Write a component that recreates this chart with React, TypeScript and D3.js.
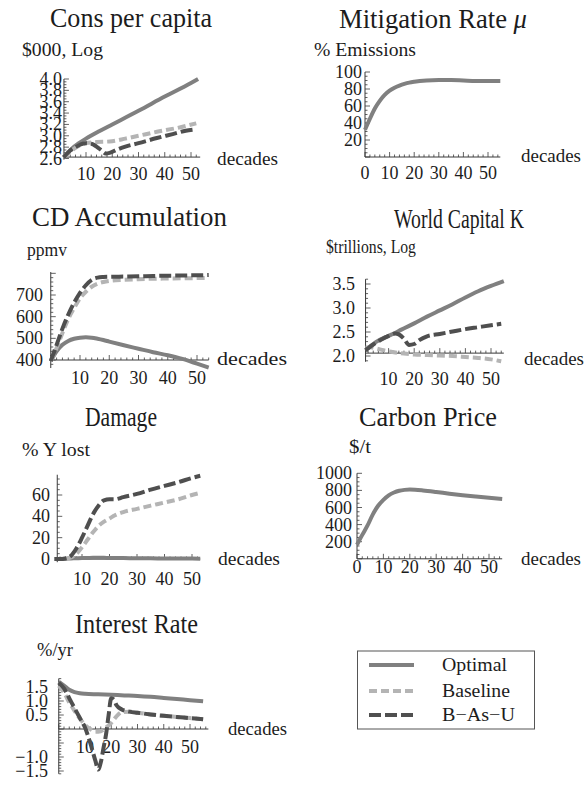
import React from 'react';
import * as d3 from 'd3';

// ---------- DATA ----------
// Cons per capita ($000, log)
const CONS_OPT_X = [1.5, 3, 5, 7, 10, 15, 20, 30, 40, 50, 52.7];
const CONS_OPT_Y = [2.62, 2.7, 2.79, 2.86, 2.95, 3.08, 3.2, 3.44, 3.69, 3.93, 4.0];
const CONS_BASE_X = [1.5, 4, 6, 8, 10, 14, 19, 25, 30, 37, 45, 52];
const CONS_BASE_Y = [2.62, 2.72, 2.79, 2.84, 2.87, 2.89, 2.9, 2.95, 3.0, 3.07, 3.14, 3.22];
const CONS_BAU_X = [1.5, 4, 6, 8, 10, 12, 14, 16, 17.5, 19, 22, 25, 30, 37, 43, 48, 51];
const CONS_BAU_Y = [2.62, 2.74, 2.8, 2.85, 2.87, 2.86, 2.81, 2.74, 2.69, 2.7, 2.76, 2.81, 2.87, 2.96, 3.03, 3.09, 3.11];

// Mitigation rate (% emissions)
const MIT_X = [0, 2, 4, 6, 8, 10, 12, 14, 16, 18, 20, 25, 30, 35, 40, 45, 50, 55];
const MIT_OPT = [32, 45, 57, 66, 73, 78, 81.5, 84, 86, 87.5, 88.5, 90, 90.5, 90.5, 90, 89.5, 89.5, 89.5];

// CD accumulation (ppmv)
const CD_X = [0, 2, 4, 6, 8, 10, 12, 14, 16, 18, 20, 25, 30, 35, 40, 45, 50, 54];
const CD_OPT = [395, 440, 470, 488, 498, 503, 505, 503, 498, 492, 485, 468, 452, 436, 422, 405, 383, 365];
const CD_BASE = [395, 455, 525, 590, 640, 685, 715, 738, 752, 760, 765, 770, 773, 775, 776, 777, 778, 778];
const CD_BAU = [395, 470, 545, 610, 665, 710, 745, 770, 780, 783, 784, 785, 786, 788, 789, 790, 791, 792];

// World capital K ($trillions, log)
const K_OPT_X = [1, 5, 10, 12.5, 15, 20, 25, 30, 35, 40, 45, 50, 55];
const K_OPT_Y = [2.12, 2.29, 2.42, 2.48, 2.55, 2.68, 2.82, 2.95, 3.08, 3.22, 3.35, 3.46, 3.56];
const K_BAU_X = [1, 4, 7, 10, 12.5, 14, 16, 18, 20, 22, 25, 30, 35, 40, 45, 50, 54];
const K_BAU_Y = [2.12, 2.24, 2.34, 2.42, 2.47, 2.45, 2.36, 2.23, 2.25, 2.33, 2.41, 2.46, 2.51, 2.56, 2.6, 2.64, 2.67];
const K_BASE_X = [1, 3, 5, 8, 12, 16, 20, 25, 30, 35, 40, 45, 50, 54];
const K_BASE_Y = [2.17, 2.18, 2.16, 2.12, 2.08, 2.05, 2.03, 2.02, 2.01, 2.0, 1.98, 1.96, 1.93, 1.89];

// Damage (% Y lost)
const DMG_X = [0, 2, 4, 6, 8, 10, 12, 14, 16, 18, 20, 22, 25, 30, 35, 40, 45, 50, 53];
const DMG_OPT = [0, 0.1, 0.3, 0.5, 0.7, 0.9, 1.0, 1.1, 1.1, 1.1, 1.0, 1.0, 0.9, 0.7, 0.6, 0.5, 0.4, 0.4, 0.3];
const DMG_BASE = [0, 0, 0.3, 1.5, 5, 11, 18, 25, 31, 35, 38, 41, 44, 47, 50, 53, 56, 60, 62];
const DMG_BAU = [0, 0, 0.5, 3, 10, 20, 31, 42, 50, 55, 56, 56, 58, 61, 65, 68.5, 72, 76, 78];

// Carbon price ($/t)
const CP_X = [0, 2, 4, 6, 8, 10, 12, 14, 16, 18, 20, 22, 25, 30, 35, 40, 45, 50, 55];
const CP_OPT = [165, 280, 390, 520, 620, 690, 742, 775, 796, 806, 810, 808, 800, 782, 762, 744, 728, 713, 700];

// Interest rate (%/yr)
const IR_OPT_X = [0, 2, 4, 6, 8, 10, 15, 20, 25, 30, 35, 40, 45, 50, 55];
const IR_OPT = [1.68, 1.55, 1.4, 1.32, 1.28, 1.26, 1.24, 1.22, 1.2, 1.18, 1.15, 1.11, 1.07, 1.03, 0.99];
const IR_BASE_X = [0, 2, 4, 6, 8, 10, 12, 14, 16, 18, 20, 22, 24, 27, 30, 35, 40, 45, 50, 55];
const IR_BASE = [1.55, 1.3, 0.95, 0.65, 0.38, 0.15, 0.0, -0.1, -0.08, 0.05, 0.22, 0.45, 0.6, 0.62, 0.58, 0.52, 0.47, 0.43, 0.39, 0.35];
const IR_BAU_X = [0, 2, 4, 6, 8, 10, 12, 14, 15, 16, 17, 18, 19, 20, 21, 22, 24, 27, 30, 35, 40, 45, 50, 55];
const IR_BAU = [1.65, 1.45, 1.1, 0.75, 0.4, 0.05, -0.5, -1.15, -1.45, -1.2, -0.7, -0.2, 0.5, 1.1, 1.05, 0.85, 0.7, 0.62, 0.58, 0.52, 0.47, 0.43, 0.39, 0.35];

// Tick labels
const XT_10 = [10, 20, 30, 40, 50];
const XT_0 = [0, 10, 20, 30, 40, 50];
const CONS_YT = [2.6, 2.8, 3.0, 3.2, 3.4, 3.6, 3.8, 4.0];
const MIT_YT = [20, 40, 60, 80, 100];
const CD_YT = [400, 500, 600, 700];
const K_YT = [2.0, 2.5, 3.0, 3.5];
const DMG_YT = [0, 20, 40, 60];
const CP_YT = [200, 400, 600, 800, 1000];
const IR_YT = [1.5, 1.0, 0.5, -1.0, -1.5];

const LEGEND_NAMES = ['Optimal', 'Baseline', 'B\u2212As\u2212U'];

// ---------- STYLE ----------
const FONT = '"Liberation Serif", "Times New Roman", serif';
const TXT = '#1c1c1c';
const AXIS = '#3a3a3a';
const STYLES: Record<string, { stroke: string; dash?: string }> = {
  opt: { stroke: '#808080' },
  base: { stroke: '#b4b4b4', dash: '8,4' },
  bau: { stroke: '#4f4f4f', dash: '12,4' },
};
const LW = 4;
const TICK_FS = 18;
const SMALL_FS = 18.5;
const TITLE_FS = 27;

type Series = { xs: number[]; ys: number[]; kind: 'opt' | 'base' | 'bau' };
type Panel = {
  title: React.ReactNode; titleX: number; titleY: number; titleW: number;
  unit: string; unitX: number; unitY: number; unitW: number;
  xDom: [number, number]; xRange: [number, number];
  yDom: [number, number]; yRange: [number, number];
  xAxis: [number, number]; yAxis: [number, number];
  xCross: number; yCross: number;
  xTicks: number[]; yTicks: number[]; yFmt: (v: number) => string;
  xMinor: number; yMinor: number;
  yLabelRight: number; xLabelY: number;
  decX: number; decY: number; decW: number;
  series: Series[];
};

const f1 = (v: number) => (v < 0 ? '\u2212' : '') + d3.format('.1f')(Math.abs(v));
const f0 = (v: number) => String(v);

const panels: Panel[] = [
  {
    title: 'Cons per capita', titleX: 50, titleY: 27, titleW: 162,
    unit: '$000, Log', unitX: 22, unitY: 56, unitW: 81,
    xDom: [0, 50], xRange: [59.75, 191], yDom: [2.6, 4.0], yRange: [158.5, 79],
    xAxis: [1.6, 53.5], yAxis: [2.58, 4.0], xCross: 2.625, yCross: 1.6,
    xTicks: XT_10, yTicks: CONS_YT, yFmt: f1, xMinor: 2, yMinor: 0.05,
    yLabelRight: 62, xLabelY: 180, decX: 217, decY: 165, decW: 61,
    series: [
      { xs: CONS_OPT_X, ys: CONS_OPT_Y, kind: 'opt' },
      { xs: CONS_BASE_X, ys: CONS_BASE_Y, kind: 'base' },
      { xs: CONS_BAU_X, ys: CONS_BAU_Y, kind: 'bau' },
    ],
  },
  {
    title: (<>Mitigation Rate <tspan fontStyle="italic">{'\u03bc'}</tspan></>), titleX: 339, titleY: 28, titleW: 188,
    unit: '% Emissions', unitX: 314, unitY: 56, unitW: 102,
    xDom: [0, 50], xRange: [365, 488], yDom: [0, 100], yRange: [157, 72],
    xAxis: [0, 55], yAxis: [0, 100], xCross: 0, yCross: 0,
    xTicks: XT_0, yTicks: MIT_YT, yFmt: f0, xMinor: 2, yMinor: 5,
    yLabelRight: 362, xLabelY: 179, decX: 521, decY: 162, decW: 60,
    series: [{ xs: MIT_X, ys: MIT_OPT, kind: 'opt' }],
  },
  {
    title: 'CD Accumulation', titleX: 32, titleY: 226, titleW: 195,
    unit: 'ppmv', unitX: 27, unitY: 256, unitW: 40,
    xDom: [0, 50], xRange: [50.75, 197], yDom: [400, 700], yRange: [360, 295],
    xAxis: [0, 54], yAxis: [363, 806], xCross: 400, yCross: 0,
    xTicks: XT_10, yTicks: CD_YT, yFmt: f0, xMinor: 2, yMinor: 20,
    yLabelRight: 43, xLabelY: 384, decX: 217, decY: 365, decW: 70,
    series: [
      { xs: CD_X, ys: CD_OPT, kind: 'opt' },
      { xs: CD_X, ys: CD_BASE, kind: 'base' },
      { xs: CD_X, ys: CD_BAU, kind: 'bau' },
    ],
  },
  {
    title: 'World Capital K', titleX: 394, titleY: 228, titleW: 130,
    unit: '$trillions, Log', unitX: 326, unitY: 253, unitW: 90,
    xDom: [0, 50], xRange: [363, 491], yDom: [2, 3.5], yRange: [356, 284],
    xAxis: [1, 55], yAxis: [1.88, 3.6], xCross: 2.06, yCross: 1,
    xTicks: XT_10, yTicks: K_YT, yFmt: f1, xMinor: 2, yMinor: 0.1,
    yLabelRight: 355, xLabelY: 385, decX: 524, decY: 365, decW: 60,
    series: [
      { xs: K_OPT_X, ys: K_OPT_Y, kind: 'opt' },
      { xs: K_BASE_X, ys: K_BASE_Y, kind: 'base' },
      { xs: K_BAU_X, ys: K_BAU_Y, kind: 'bau' },
    ],
  },
  {
    title: 'Damage', titleX: 85, titleY: 426, titleW: 72,
    unit: '% Y lost', unitX: 22, unitY: 456, unitW: 68,
    xDom: [0, 50], xRange: [54.5, 192], yDom: [0, 60], yRange: [559, 495],
    xAxis: [1, 53], yAxis: [-3, 79], xCross: 0, yCross: 1,
    xTicks: XT_10, yTicks: DMG_YT, yFmt: f0, xMinor: 2, yMinor: 5,
    yLabelRight: 50, xLabelY: 585, decX: 218, decY: 565, decW: 62,
    series: [
      { xs: DMG_X, ys: DMG_OPT, kind: 'opt' },
      { xs: DMG_X, ys: DMG_BASE, kind: 'base' },
      { xs: DMG_X, ys: DMG_BAU, kind: 'bau' },
    ],
  },
  {
    title: 'Carbon Price', titleX: 359, titleY: 426, titleW: 138,
    unit: '$/t', unitX: 349, unitY: 453, unitW: 22,
    xDom: [0, 50], xRange: [357, 489], yDom: [0, 1000], yRange: [558.8, 473.3],
    xAxis: [0, 55], yAxis: [0, 1000], xCross: 0, yCross: 0,
    xTicks: XT_0, yTicks: CP_YT, yFmt: f0, xMinor: 2, yMinor: 50,
    yLabelRight: 352, xLabelY: 573, decX: 521, decY: 565, decW: 60,
    series: [{ xs: CP_X, ys: CP_OPT, kind: 'opt' }],
  },
  {
    title: 'Interest Rate', titleX: 75, titleY: 633, titleW: 123,
    unit: '%/yr', unitX: 37, unitY: 656, unitW: 36,
    xDom: [0, 50], xRange: [58.75, 190], yDom: [-1.5, 1.5], yRange: [771, 687],
    xAxis: [0, 57], yAxis: [-1.6, 1.8], xCross: 0, yCross: 0,
    xTicks: XT_10, yTicks: IR_YT, yFmt: f1, xMinor: 2, yMinor: 0.1,
    yLabelRight: 48, xLabelY: 753, decX: 228, decY: 735, decW: 59,
    series: [
      { xs: IR_OPT_X, ys: IR_OPT, kind: 'opt' },
      { xs: IR_BASE_X, ys: IR_BASE, kind: 'base' },
      { xs: IR_BAU_X, ys: IR_BAU, kind: 'bau' },
    ],
  },
];

function minorValues(lo: number, hi: number, step: number): number[] {
  const out: number[] = [];
  const start = Math.ceil(lo / step - 1e-9);
  const end = Math.floor(hi / step + 1e-9);
  for (let i = start; i <= end; i++) out.push(+(i * step).toFixed(6));
  return out;
}

function PanelView({ p }: { p: Panel }) {
  const x = d3.scaleLinear().domain(p.xDom).range(p.xRange);
  const y = d3.scaleLinear().domain(p.yDom).range(p.yRange);
  const ax = y(p.xCross);
  const ay = x(p.yCross);
  const line = d3.line<[number, number]>().x((d) => x(d[0])).y((d) => y(d[1])).curve(d3.curveMonotoneX);
  const xMinor = minorValues(p.xAxis[0], p.xAxis[1], p.xMinor);
  const yMinor = minorValues(p.yAxis[0], p.yAxis[1], p.yMinor);
  const isMajorX = (v: number) => Math.abs(v / 10 - Math.round(v / 10)) < 1e-6;
  const majorYStep = p.yTicks.length > 1 ? Math.abs(p.yTicks[1] - p.yTicks[0]) : 1;
  const isMajorY = (v: number) => Math.abs(v / majorYStep - Math.round(v / majorYStep)) < 1e-6;
  return (
    <g>
      <text x={p.titleX} y={p.titleY} fontSize={TITLE_FS} fill={TXT} textLength={p.titleW} lengthAdjust="spacingAndGlyphs">{p.title}</text>
      <text x={p.unitX} y={p.unitY} fontSize={SMALL_FS} fill={TXT} textLength={p.unitW} lengthAdjust="spacingAndGlyphs">{p.unit}</text>
      {/* axes */}
      <line x1={x(p.xAxis[0])} x2={x(p.xAxis[1])} y1={ax} y2={ax} stroke={AXIS} strokeWidth={1} />
      <line x1={ay} x2={ay} y1={y(p.yAxis[0])} y2={y(p.yAxis[1])} stroke={AXIS} strokeWidth={1} />
      {xMinor.map((v) => (
        <line key={'xm' + v} x1={x(v)} x2={x(v)} y1={ax} y2={ax - (isMajorX(v) ? 5 : 2.5)} stroke={AXIS} strokeWidth={0.8} />
      ))}
      {yMinor.map((v) => (
        <line key={'ym' + v} x1={ay} x2={ay + (isMajorY(v) ? 5 : 2.5)} y1={y(v)} y2={y(v)} stroke={AXIS} strokeWidth={0.8} />
      ))}
      {p.xTicks.map((v) => (
        <text key={'xl' + v} x={x(v)} y={p.xLabelY} fontSize={TICK_FS} fill={TXT} textAnchor="middle">{v}</text>
      ))}
      {p.yTicks.map((v) => (
        <text key={'yl' + v} x={p.yLabelRight} y={y(v) + 6} fontSize={TICK_FS} fill={TXT} textAnchor="end">{p.yFmt(v)}</text>
      ))}
      <text x={p.decX} y={p.decY} fontSize={SMALL_FS} fill={TXT} textLength={p.decW} lengthAdjust="spacingAndGlyphs">decades</text>
      {/* series */}
      {p.series.map((s, i) => {
        const pts = s.xs.map((xv, j) => [xv, s.ys[j]] as [number, number]);
        const st = STYLES[s.kind];
        return (
          <path key={i} d={line(pts) || ''} fill="none" stroke={st.stroke} strokeWidth={LW}
            strokeDasharray={st.dash} strokeLinecap="butt" strokeLinejoin="round" />
        );
      })}
    </g>
  );
}

function Legend() {
  const kinds: ('opt' | 'base' | 'bau')[] = ['opt', 'base', 'bau'];
  const rows = [665, 691, 715];
  const widths = [65, 68, 73];
  return (
    <g>
      <rect x={357.5} y={651} width={177} height={78} fill="none" stroke="#555" strokeWidth={1} />
      {kinds.map((k, i) => (
        <g key={k}>
          <line x1={369} x2={414} y1={rows[i]} y2={rows[i]} stroke={STYLES[k].stroke} strokeWidth={LW}
            strokeDasharray={STYLES[k].dash} />
          <text x={442} y={rows[i] + 6} fontSize={SMALL_FS} fill={TXT} textLength={widths[i]} lengthAdjust="spacingAndGlyphs">{LEGEND_NAMES[i]}</text>
        </g>
      ))}
    </g>
  );
}

export default function App() {
  return (
    <svg width={588} height={787} viewBox="0 0 588 787"
      style={{ position: 'absolute', left: 0, top: 0, fontFamily: FONT, background: '#fff' }}>
      <rect x={0} y={0} width={588} height={787} fill="#fff" />
      {panels.map((p, i) => <PanelView key={i} p={p} />)}
      <Legend />
    </svg>
  );
}
